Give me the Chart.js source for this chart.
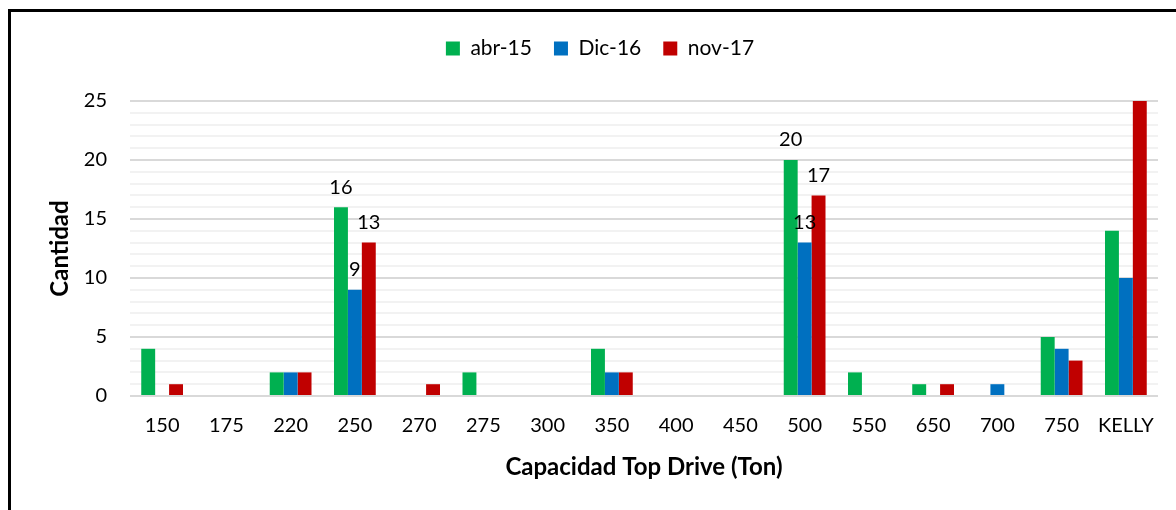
<!DOCTYPE html>
<html>
<head>
<meta charset="utf-8">
<script src="https://cdn.jsdelivr.net/npm/chart.js@4.4.1/dist/chart.umd.min.js"></script>
<style>
  html, body { margin: 0; padding: 0; background: #fff; overflow: hidden; }
  #wrap { position: relative; width: 1176px; height: 510px; }
  #frame {
    position: absolute; left: 8px; top: 9px; width: 1300px; height: 700px;
    border: 3px solid #000; pointer-events: none; box-sizing: border-box;
  }
</style>
</head>
<body>
<div id="wrap">
  <canvas id="chart" width="1176" height="510"></canvas>
  <div id="frame"></div>
</div>
<script>
// ---------------- DATOS ----------------
const categories = ['150', '175', '220', '250', '270', '275', '300', '350', '400', '450', '500', '550', '650', '700', '750', 'KELLY'];
const abr15 = [4, 0, 2, 16, 0, 2, 0, 4, 0, 0, 20, 2, 1, 0, 5, 14];
const dic16 = [0, 0, 2, 9, 0, 0, 0, 2, 0, 0, 13, 0, 0, 1, 4, 10];
const nov17 = [1, 0, 2, 13, 1, 0, 0, 2, 0, 0, 17, 0, 1, 0, 3, 25];
const labeledCategories = ['250', '500'];   // solo estos grupos llevan etiqueta de valor
const yTicks = [0, 5, 10, 15, 20, 25];

const FONT = 'Lato, "DejaVu Sans", sans-serif';

// margen extra bajo la leyenda
const legendGap = {
  id: 'legendGap',
  beforeInit(chart) {
    const fit = chart.legend.fit;
    chart.legend.fit = function () {
      fit.bind(chart.legend)();
      this.height += 32;
    };
  }
};

// etiquetas de valor sobre las barras
const valueLabels = {
  id: 'valueLabels',
  afterDatasetsDraw(chart) {
    const ctx = chart.ctx;
    ctx.save();
    ctx.font = '20px ' + FONT;
    ctx.fillStyle = '#000';
    ctx.textAlign = 'center';
    ctx.textBaseline = 'middle';
    chart.data.datasets.forEach((ds, i) => {
      const meta = chart.getDatasetMeta(i);
      meta.data.forEach((bar, j) => {
        if (!labeledCategories.includes(categories[j])) return;
        ctx.fillText(String(ds.data[j]), bar.x, bar.y - 20);
      });
    });
    ctx.restore();
  }
};

const ctx = document.getElementById('chart').getContext('2d');
new Chart(ctx, {
  type: 'bar',
  data: {
    labels: categories,
    datasets: [
      { label: 'abr-15', data: abr15, backgroundColor: '#00B050' },
      { label: 'Dic-16', data: dic16, backgroundColor: '#0070C0' },
      { label: 'nov-17', data: nov17, backgroundColor: '#C00000' }
    ]
  },
  options: {
    responsive: false,
    animation: false,
    layout: { padding: { left: 42, right: 18, top: 16, bottom: 18 } },
    datasets: {
      bar: { categoryPercentage: 0.65, barPercentage: 1.0, borderWidth: 0 }
    },
    plugins: {
      legend: {
        position: 'top',
        labels: {
          boxWidth: 14, boxHeight: 14, padding: 22,
          color: '#000',
          font: { family: FONT, size: 21 }
        }
      },
      tooltip: { enabled: false }
    },
    scales: {
      x: {
        afterFit: axis => { axis.height = 96; },
        grid: { display: false },
        border: { display: false },
        ticks: { color: '#000', font: { family: FONT, size: 20 }, padding: 10, maxRotation: 0, autoSkip: false },
        title: {
          display: true, text: 'Capacidad Top Drive (Ton)', color: '#000',
          font: { family: FONT, size: 24, weight: 'bold' }, padding: { top: 0, bottom: 10 }
        }
      },
      y: {
        min: 0, max: 25,
        afterFit: axis => { axis.width = 88; },
        border: { display: false },
        grid: {
          drawTicks: false,
          lineWidth: 2,
          color: c => (yTicks.includes(c.tick.value) ? '#D9D9D9' : '#F2F2F2')
        },
        ticks: {
          stepSize: 1, autoSkip: false, padding: 23,
          color: '#000', font: { family: FONT, size: 20 },
          callback: v => (yTicks.includes(v) ? v : '')
        },
        title: {
          display: true, text: 'Cantidad', color: '#000',
          font: { family: FONT, size: 24, weight: 'bold' }, padding: { top: 4, bottom: 0 }
        }
      }
    }
  },
  plugins: [legendGap, valueLabels]
});
</script>
</body>
</html>
